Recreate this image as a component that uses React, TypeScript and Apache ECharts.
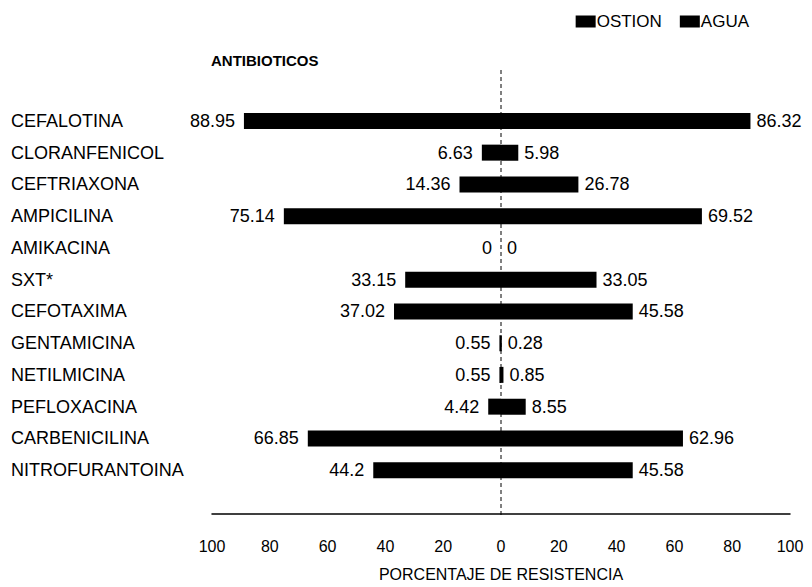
import React, { useEffect, useRef } from "react";
import * as echarts from "echarts";

const categories = [
  "CEFALOTINA",
  "CLORANFENICOL",
  "CEFTRIAXONA",
  "AMPICILINA",
  "AMIKACINA",
  "SXT*",
  "CEFOTAXIMA",
  "GENTAMICINA",
  "NETILMICINA",
  "PEFLOXACINA",
  "CARBENICILINA",
  "NITROFURANTOINA",
];
const ostion = [88.95, 6.63, 14.36, 75.14, 0, 33.15, 37.02, 0.55, 0.55, 4.42, 66.85, 44.2];
const agua = [86.32, 5.98, 26.78, 69.52, 0, 33.05, 45.58, 0.28, 0.85, 8.55, 62.96, 45.58];
const xTicks = { min: -100, max: 100, interval: 20 };

const FONT = "'Liberation Sans', Arial, sans-serif";

export default function App() {
  const ref = useRef<HTMLDivElement>(null);
  useEffect(() => {
    if (!ref.current) return;
    const chart = echarts.init(ref.current, undefined, { renderer: "svg" });
    const gridTop = 105;
    const gridHeight = 384;
    const axisOffset = 28;
    chart.setOption({
      animation: false,
      backgroundColor: "#fff",
      textStyle: { fontFamily: FONT, color: "#000" },
      title: {
        text: "ANTIBIOTICOS",
        left: 206,
        top: 48,
        textStyle: { fontFamily: FONT, fontSize: 15, fontWeight: "bold", color: "#000" },
      },
      legend: {
        right: 58,
        top: 8,
        itemWidth: 20,
        itemHeight: 12,
        itemGap: 18,
        icon: "rect",
        textStyle: { fontFamily: FONT, fontSize: 17, color: "#000", padding: [0, 0, 0, -4] },
        data: ["OSTION", "AGUA"],
      },
      grid: { left: 212, right: 22, top: gridTop, height: gridHeight },
      xAxis: {
        type: "value",
        min: xTicks.min,
        max: xTicks.max,
        interval: xTicks.interval,
        offset: axisOffset,
        axisLine: { show: true, onZero: false, lineStyle: { color: "#000", width: 1.5 } },
        axisTick: { show: false },
        splitLine: { show: false },
        axisLabel: {
          margin: 24,
          fontSize: 16,
          color: "#000",
          fontFamily: FONT,
          formatter: (v: number) => String(Math.abs(v)),
        },
        name: "PORCENTAJE DE RESISTENCIA",
        nameLocation: "middle",
        nameGap: 52,
        nameTextStyle: { fontSize: 16, color: "#000", fontFamily: FONT },
      },
      yAxis: {
        type: "category",
        inverse: true,
        data: categories,
        axisLine: { show: false },
        axisTick: { show: false },
        axisLabel: {
          align: "left",
          margin: 201,
          fontSize: 18,
          color: "#000",
          fontFamily: FONT,
        },
      },
      series: [
        {
          name: "OSTION",
          type: "bar",
          stack: "a",
          barWidth: 16,
          itemStyle: { color: "#000" },
          data: ostion.map((v) => -v),
          label: {
            show: true,
            position: "left",
            distance: 9,
            fontSize: 18,
            color: "#000",
            fontFamily: FONT,
            formatter: (p: any) => String(Math.abs(p.value)),
          },
        },
        {
          name: "AGUA",
          type: "bar",
          stack: "a",
          barWidth: 16,
          itemStyle: { color: "#000" },
          data: agua,
          label: {
            show: true,
            position: "right",
            distance: 6,
            fontSize: 18,
            color: "#000",
            fontFamily: FONT,
            formatter: (p: any) => String(p.value),
          },
        },
      ],
    });
    const x0 = chart.convertToPixel({ xAxisIndex: 0 }, 0) as number;
    chart.setOption({
      graphic: [
        {
          type: "line",
          z: 0,
          shape: { x1: x0, y1: 70, x2: x0, y2: gridTop + gridHeight + axisOffset },
          style: { stroke: "#000", lineWidth: 1, lineDash: [4, 3] },
        },
      ],
    });
    return () => chart.dispose();
  }, []);
  return (
    <div
      ref={ref}
      style={{ position: "fixed", left: 0, top: 0, width: 812, height: 587, background: "#fff" }}
    />
  );
}
